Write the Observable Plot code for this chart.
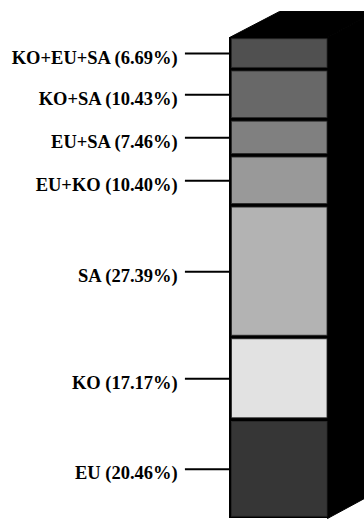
<!DOCTYPE html>
<html>
<head>
<meta charset="utf-8">
<script src="https://cdn.jsdelivr.net/npm/d3@7"></script>
<script src="https://cdn.jsdelivr.net/npm/@observablehq/plot@0.6"></script>
<style>
  html, body { margin: 0; padding: 0; background: #fff; }
</style>
</head>
<body>
<div id="chart"></div>
<script>
// Shares of each group, listed from the bottom of the column to the top
const groups = ["EU", "KO", "SA", "EU+KO", "EU+SA", "KO+SA", "KO+EU+SA"];
const shares = [20.46, 17.17, 27.39, 10.40, 7.46, 10.43, 6.69];
const shades = ["#363636", "#e2e2e2", "#b3b3b3", "#999999", "#808080", "#686868", "#505050"];

// Stack the segments
const ends = d3.cumsum(shares);
const segments = groups.map((g, i) => ({
  group: g,
  share: shares[i],
  shade: shades[i],
  y1: ends[i] - shares[i],
  y2: ends[i],
  mid: ends[i] - shares[i] / 2,
  label: `${g} (${shares[i].toFixed(2)}%)`
}));
const total = ends[ends.length - 1];

// Depth of the column's side and top, in data units
const depthX = 0.5, depthY = 5.4;
const sideFace = [
  {x: 1, y: total}, {x: 1 + depthX, y: total + depthY},
  {x: 1 + depthX, y: depthY}, {x: 1, y: 0}, {x: 1, y: total}
];
const topFace = [
  {x: -0.02, y: total}, {x: depthX, y: total + depthY},
  {x: 1 + depthX, y: total + depthY}, {x: 1, y: total}, {x: -0.02, y: total}
];

const chart = Plot.plot({
  width: 364,
  height: 519,
  marginLeft: 231,
  marginRight: 37,
  marginTop: 37,
  marginBottom: 1,
  x: {domain: [0, 1], axis: null},
  y: {domain: [0, total], axis: null},
  style: {fontFamily: "'Liberation Serif', 'DejaVu Serif', serif", background: "#fff"},
  marks: [
    Plot.line(sideFace, {x: "x", y: "y", fill: "black", stroke: "black", strokeWidth: 1}),
    Plot.line(topFace, {x: "x", y: "y", fill: "black", stroke: "black", strokeWidth: 1}),
    Plot.rect([{x1: 0, x2: 1, y1: 0, y2: total}], {x1: "x1", x2: "x2", y1: "y1", y2: "y2", fill: "black", insetLeft: -2}),
    Plot.rect(segments, {
      x1: () => 0, x2: () => 1, y1: "y1", y2: "y2",
      fill: "shade", stroke: "#2a2a2a", strokeWidth: 0.8,
      insetTop: 1.8, insetBottom: 1.8, insetLeft: 0.5, insetRight: 0
    }),
    Plot.ruleY(segments, {y: "mid", x1: () => -0.48, x2: () => -0.02, stroke: "black", strokeWidth: 2}),
    Plot.text(segments, {
      x: () => -0.56, y: "mid", text: "label", textAnchor: "end",
      fontSize: 18.5, fontWeight: "bold", fill: "black", dy: 4, letterSpacing: "-0.15px"
    })
  ]
});
document.getElementById("chart").append(chart);
</script>
</body>
</html>
